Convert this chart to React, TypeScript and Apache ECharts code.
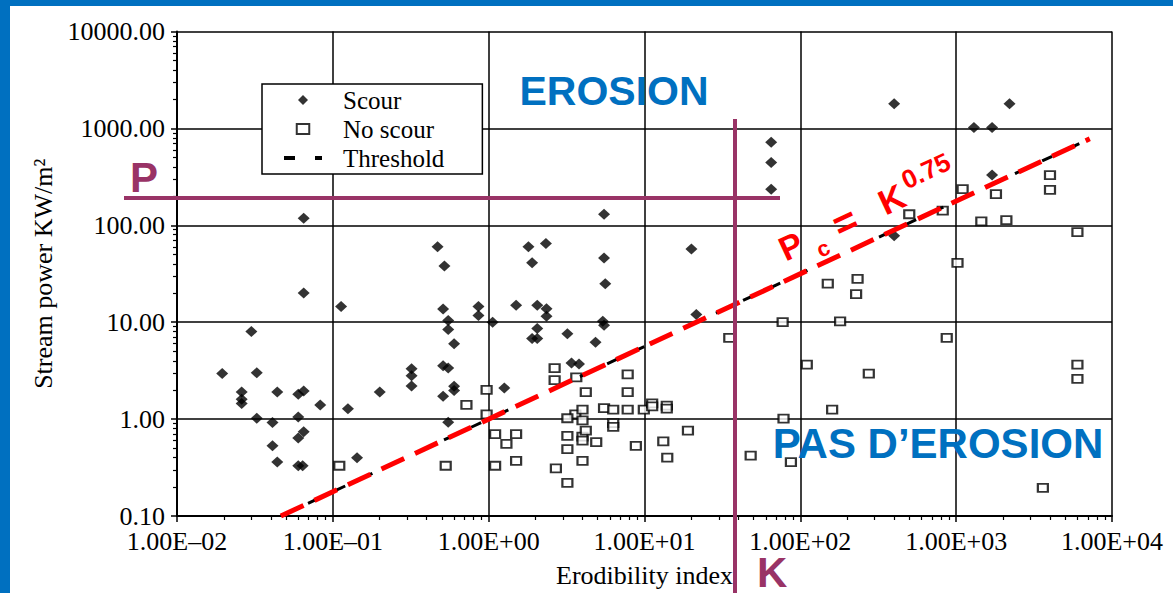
import { useEffect, useRef } from 'react';
import * as echarts from 'echarts';

// Erodibility index K versus stream power P (KW/m²), log–log
const scour: [number, number][] = [
  [0.0195, 2.95], [0.03, 8.0], [0.0325, 3.0], [0.026, 1.9], [0.026, 1.6], [0.026, 1.45],
  [0.044, 1.9], [0.06, 1.8], [0.065, 1.95], [0.083, 1.4], [0.0325, 1.02], [0.041, 0.92],
  [0.06, 1.05], [0.065, 0.74], [0.06, 0.64], [0.041, 0.53], [0.044, 0.36], [0.06, 0.33],
  [0.064, 0.33], [0.065, 118], [0.065, 20], [0.113, 14.5], [0.125, 1.28], [0.143, 0.4],
  [0.2, 1.9], [0.32, 3.3], [0.32, 2.8], [0.32, 2.2],
  [0.47, 60], [0.52, 38], [0.51, 13.7], [0.55, 10.4], [0.55, 8.4], [0.6, 6.0], [0.51, 3.56],
  [0.55, 3.37], [0.6, 2.18], [0.6, 1.97], [0.51, 1.72], [0.55, 0.93], [0.86, 14.5], [0.86, 11.7],
  [1.06, 10], [1.26, 2.1],
  [1.8, 60], [2.33, 65], [1.9, 41], [1.5, 15], [2.05, 15], [2.35, 13.8], [2.35, 11.5],
  [2.05, 8.6], [1.9, 6.8], [2.05, 6.8], [3.2, 7.6], [4.85, 6.2], [5.5, 130], [5.5, 46],
  [5.6, 25], [5.4, 10.2], [5.5, 9.3], [3.4, 3.8], [3.8, 3.7], [20, 57], [21.5, 12],
  [65, 720], [65, 445], [65, 235], [400, 1800], [2200, 1800], [1300, 1020], [1700, 1020],
  [1700, 330], [400, 78],
];

const noScour: [number, number][] = [
  [0.11, 0.33], [0.53, 0.33], [0.72, 1.4], [0.97, 2.0], [0.97, 1.12], [1.1, 0.7], [1.3, 0.555],
  [1.5, 0.7], [1.1, 0.33], [1.5, 0.37],
  [2.65, 3.35], [2.65, 2.52], [3.65, 2.7], [3.6, 1.12], [4.2, 1.9], [7.8, 2.9], [7.8, 1.9],
  [4.0, 1.25], [5.5, 1.3], [6.3, 1.25], [7.8, 1.25], [9.9, 1.25], [11.2, 1.45], [11.2, 1.35],
  [13.9, 1.38], [13.9, 1.28],
  [3.2, 1.02], [4.0, 0.97], [3.2, 0.67], [4.0, 0.66], [4.0, 0.6], [4.2, 0.76], [4.9, 0.58],
  [6.3, 0.91], [6.3, 0.83], [8.8, 0.53], [13.2, 0.59], [14, 0.4], [19, 0.76], [3.2, 0.49],
  [4.0, 0.37], [2.7, 0.31], [3.2, 0.22],
  [35, 6.9], [77, 10], [78, 1.01], [48, 0.42], [87, 0.36], [110, 3.65], [275, 2.95], [160, 1.25],
  [6000, 3.65], [6000, 2.6], [3600, 0.195], [180, 10.2], [870, 6.9], [150, 25], [233, 28],
  [228, 19.5], [1020, 41], [6000, 85], [500, 130], [820, 142], [1100, 236], [1800, 210],
  [4000, 330], [4000, 232], [1450, 110], [2100, 113],
];

// Threshold Pc = K^0.75, drawn between these erodibility values
const thresholdExponent = 0.75;
const thresholdK = [0.0464, 7200];

// Axis extents as powers of ten
const xExponents = [-2, 4];
const yExponents = [-1, 4];

const serif = '"Liberation Serif", "Times New Roman", serif';
const sans = '"Liberation Sans", Arial, sans-serif';
const blue = '#0070C0';
const plum = '#993366';
const red = '#FF0000';

const lg = (v: number) => Math.log10(v);

function minorTicks(from: number, to: number) {
  const out: number[] = [];
  for (let d = from; d < to; d++) {
    for (let k = 2; k <= 9; k++) out.push(d + Math.log10(k));
  }
  return out;
}

const fmtX = (v: number) => {
  const e = Math.round(v);
  const s = String(Math.abs(e)).padStart(2, '0');
  return '1.00E' + (e < 0 ? '\u2013' : '+') + s;
};
const fmtY = (v: number) => Math.pow(10, Math.round(v)).toFixed(2);

function buildOption(): echarts.EChartsCoreOption {
  const thresholdLine = thresholdK.map((k) => [lg(k), thresholdExponent * lg(k)]);
  const axisText = { color: '#000', fontFamily: serif, fontSize: 26 };
  const txt = (
    text: string,
    x: number,
    y: number,
    font: string,
    fill: string,
    align = 'center',
    lineHeight?: number
  ) => ({
    type: 'text',
    z: 20,
    style: {
      text, x, y, font, fill, lineHeight,
      align, textAlign: align,
      verticalAlign: 'middle', textVerticalAlign: 'middle',
    },
  });

  return {
    animation: false,
    backgroundColor: '#fff',
    grid: { left: 177, right: 61, top: 31.5, bottom: 76, containLabel: false },
    legend: {
      left: 262,
      top: 84,
      orient: 'vertical',
      backgroundColor: '#fff',
      borderColor: '#000',
      borderWidth: 1.5,
      borderRadius: 0,
      padding: [3, 38, 3, 20],
      itemGap: 3,
      itemWidth: 38,
      itemHeight: 10,
      symbolKeepAspect: true,
      textStyle: { ...axisText, fontSize: 25, lineHeight: 26, padding: [0, 0, 0, 16] },
      data: [
        { name: 'Scour', icon: 'path://M0,-6L6,0L0,6L-6,0Z' },
        { name: 'No scour', icon: 'path://M0,0H10V8H0Z' },
        {
          name: 'Threshold',
          itemStyle: { opacity: 0 },
          lineStyle: { width: 4, type: [11, 20] },
        },
      ],
      z: 10,
    },
    xAxis: [
      {
        type: 'value',
        min: xExponents[0],
        max: xExponents[1],
        interval: 1,
        name: 'Erodibility index',
        nameLocation: 'middle',
        nameGap: 46,
        nameTextStyle: axisText,
        axisLine: { show: true, onZero: false, lineStyle: { color: '#000', width: 2 } },
        axisTick: { show: true, length: 6, lineStyle: { color: '#000', width: 1.5 } },
        axisLabel: { ...axisText, lineHeight: 22, margin: 14, formatter: fmtX },
        splitLine: { show: true, lineStyle: { color: '#000', width: 1.5 } },
      },
      {
        type: 'value',
        position: 'bottom',
        min: xExponents[0],
        max: xExponents[1],
        axisLine: { show: false, onZero: false },
        axisLabel: { show: false },
        splitLine: { show: false },
        axisTick: {
          show: true,
          length: 4,
          customValues: minorTicks(xExponents[0], xExponents[1]),
          lineStyle: { color: '#000', width: 1.2 },
        },
      },
    ],
    yAxis: [
      {
        type: 'value',
        min: yExponents[0],
        max: yExponents[1],
        interval: 1,
        name: 'Stream power KW/m\u00B2',
        nameLocation: 'middle',
        nameGap: 119,
        nameTextStyle: axisText,
        axisLine: { show: true, onZero: false, lineStyle: { color: '#000', width: 2 } },
        axisTick: { show: true, length: 6, lineStyle: { color: '#000', width: 1.5 } },
        axisLabel: { ...axisText, lineHeight: 22, margin: 12, formatter: fmtY },
        splitLine: { show: true, lineStyle: { color: '#000', width: 1.5 } },
      },
      {
        type: 'value',
        position: 'left',
        min: yExponents[0],
        max: yExponents[1],
        axisLine: { show: false, onZero: false },
        axisLabel: { show: false },
        splitLine: { show: false },
        axisTick: {
          show: true,
          length: 4,
          customValues: minorTicks(yExponents[0], yExponents[1]),
          lineStyle: { color: '#000', width: 1.2 },
        },
      },
    ],
    series: [
      {
        name: 'Scour',
        type: 'scatter',
        symbol: 'diamond',
        symbolSize: [12, 11],
        itemStyle: { color: '#000' },
        data: scour.map(([k, p]) => [lg(k), lg(p)]),
        z: 3,
      },
      {
        name: 'No scour',
        type: 'scatter',
        symbol: 'rect',
        symbolSize: [10, 8],
        itemStyle: { color: '#fff', borderColor: '#000', borderWidth: 2 },
        data: noScour.map(([k, p]) => [lg(k), lg(p)]),
        z: 3,
      },
      {
        name: 'Threshold',
        type: 'line',
        symbol: 'none',
        itemStyle: { color: '#000' },
        lineStyle: { color: '#000', width: 3, type: [11, 19] },
        data: thresholdLine,
        z: 4,
      },
      {
        name: 'Pc',
        type: 'line',
        symbol: 'none',
        lineStyle: { color: red, width: 5, type: [25, 12] },
        data: thresholdLine,
        z: 5,
      },
    ],
    graphic: {
      elements: [
        // slide frame
        { type: 'rect', z: 30, shape: { x: 0, y: 0, width: 10, height: 593 }, style: { fill: blue } },
        { type: 'rect', z: 30, shape: { x: 0, y: 0, width: 1173, height: 6 }, style: { fill: blue } },
        // zone labels
        txt('EROSION', 614, 91, `bold 41px ${sans}`, blue),
        txt('PAS D\u2019EROSION', 938, 443, `bold 42px ${sans}`, blue),
        // critical P and K guides
        { type: 'line', z: 20, shape: { x1: 124, y1: 198, x2: 780, y2: 198 }, style: { stroke: plum, lineWidth: 4 } },
        { type: 'line', z: 20, shape: { x1: 735, y1: 119, x2: 735, y2: 593 }, style: { stroke: plum, lineWidth: 4 } },
        txt('P', 130, 177, `bold 42px ${sans}`, plum, 'left', 32),
        txt('K', 757, 572, `bold 42px ${sans}`, plum, 'left', 32),
        // threshold equation, along the line
        {
          type: 'group',
          x: 791,
          y: 246,
          rotation: (25 * Math.PI) / 180,
          z: 20,
          children: [
            txt('P', 0, 0, `bold 34px ${sans}`, red),
            txt('c', 28, 16, `bold 22px ${sans}`, red),
            txt('=', 59, 1, `bold 40px ${sans}`, red),
            txt('K', 111, 0, `bold 35px ${sans}`, red),
            txt('0.75', 154, -11, `bold 26px ${sans}`, red),
          ],
        },
      ],
    },
  };
}

export default function App() {
  const ref = useRef<HTMLDivElement>(null);
  useEffect(() => {
    if (!ref.current) return;
    const chart = echarts.init(ref.current, undefined, { renderer: 'svg' });
    chart.setOption(buildOption());
    return () => chart.dispose();
  }, []);
  return (
    <div
      ref={ref}
      style={{ position: 'fixed', left: 0, top: 0, width: 1173, height: 593 }}
    />
  );
}
